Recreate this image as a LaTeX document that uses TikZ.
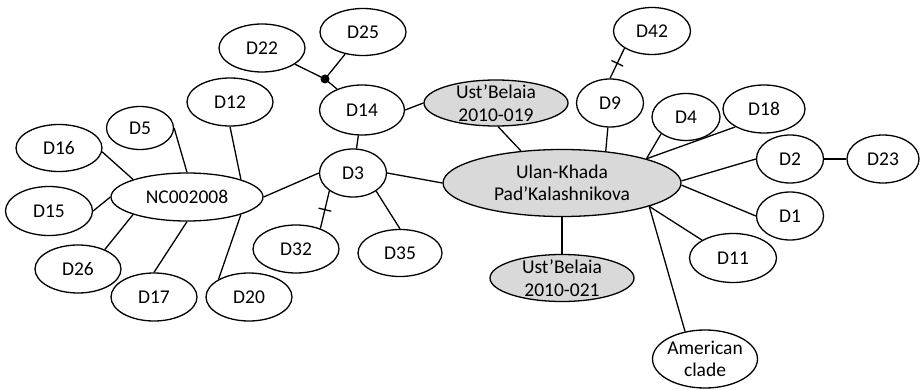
\documentclass[tikz,border=0pt]{standalone}
\usepackage{fontspec}
\setmainfont{Carlito}
\usetikzlibrary{shapes.geometric,decorations.markings}
\definecolor{fillg}{RGB}{217,217,217}
\begin{document}
\begin{tikzpicture}[x=1pt,y=-1pt,
  el/.style={ellipse, draw, line width=1.3pt, inner sep=0pt, font=\fontsize{19.5}{22.5}\selectfont},
  sz/.style 2 args={minimum width=#1pt, minimum height=#2pt},
  gr/.style={el, fill=fillg},
  txt/.style={inner sep=0pt, align=center, font=\fontsize{19.5}{22.5}\selectfont},
  lk/.style={line width=1.3pt},
  tickmark/.style={postaction={decorate, decoration={markings, mark=at position 0.5 with {\draw[line width=1.3pt] (0,-6.5pt) -- (0,6.5pt);}}}}
]
\useasboundingbox (0,0) rectangle (920,390);
% nodes
\node[el, sz={86}{48}] (d22) at (262,48) {D22};
\node[el, sz={86}{47}] (d25) at (363,32) {D25};
\node[el, sz={85}{50}] (d14) at (362,110) {D14};
\node[gr, sz={144}{46}] (ust019) at (496,103) {};
\node[txt] (ust019t) at (ust019) {Ust’Belaia\\2010-019};
\node[el, sz={86}{48}] (d12) at (230,102) {D12};
\node[el, sz={67}{43}] (d5) at (140,128) {D5};
\node[el, sz={86}{47}] (d16) at (59,148) {D16};
\node[el, sz={152}{48}] (nc) at (187,197) {NC002008};
\node[el, sz={87}{49}] (d15) at (49,211) {D15};
\node[el, sz={86}{48}] (d26) at (78,269) {D26};
\node[el, sz={86}{48}] (d17) at (154,297) {D17};
\node[el, sz={86}{48}] (d20) at (249,297) {D20};
\node[el, sz={67}{48}] (d3) at (353,173) {D3};
\node[el, sz={86}{48}] (d32) at (296,249) {D32};
\node[el, sz={84}{47}] (d35) at (400,253) {D35};
\node[gr, sz={238}{67}] (ulan) at (562,183) {};
\node[txt] (ulant) at (ulan) {Ulan-Khada\\Pad’Kalashnikova};
\node[gr, sz={144}{47}] (ust021) at (562,278) {};
\node[txt] (ust021t) at (ust021) {Ust’Belaia\\2010-021};
\node[el, sz={105}{58}] (am) at (705,359) {};
\node[txt] (amt) at (am) {American\\clade};
\node[el, sz={77}{47}] (d42) at (652,31) {D42};
\node[el, sz={67}{48}] (d9) at (610,103) {D9};
\node[el, sz={68}{47}] (d4) at (686,117) {D4};
\node[el, sz={82}{48}] (d18) at (764,109) {D18};
\node[el, sz={67}{48}] (d2) at (790,159) {D2};
\node[el, sz={72}{48}] (d23) at (883,159) {D23};
\node[el, sz={67}{48}] (d1) at (790,216) {D1};
\node[el, sz={87}{49}] (d11) at (733,258) {D11};
\coordinate (j) at (325,79);
% connectors
\draw[lk] (d22) -- (j);
\draw[lk] (d25) -- (j);
\draw[lk] (j) -- (d14);
\fill (j) circle (4.5pt);
\draw[lk] (d14) -- (d3);
\draw[lk] (d14.east) -- (ust019.west);
\draw[lk] (ust019.-85) -- (ulan.142);
\draw[lk] (d3.west) -- (nc.east);
\draw[lk, tickmark] (d3.-143) -- (d32.40);
\draw[lk] (d3.-38) -- (d35.north);
\draw[lk] (d3.east) -- (ulan.west);
\draw[lk] (d5.east) -- (nc.north);
\draw[lk] (d12.south) -- (nc.18);
\draw[lk] (d16.-5) -- (nc.162);
\draw[lk] (d15.east) -- (nc.west);
\draw[lk] (d26.36) -- (nc.-162);
\draw[lk] (d17.north) -- (nc.south);
\draw[lk] (d20.150) -- (nc.-18);
\draw[lk] (d9.-95) -- (ulan.36);
\draw[lk, tickmark] (d9.north) -- (d42.-148);
\draw[lk] (ulan.16) -- (d4.-146);
\draw[lk] (ulan.16) -- (d18.-148);
\draw[lk] (ulan.1) -- (d2.west);
\draw[lk] (ulan.-1) -- (d1.west);
\draw[lk] (ulan.-15) -- (d11.150);
\draw[lk] (ulan.-15) -- (am.126);
\draw[lk] (ulan.south) -- (ust021.north);
\draw[lk] (d2.east) -- (d23.west);
\end{tikzpicture}
\end{document}
